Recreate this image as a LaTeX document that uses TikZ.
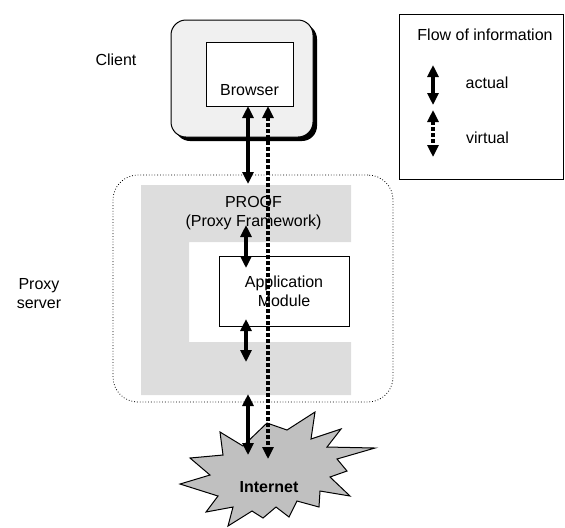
\documentclass[tikz,border=0pt]{standalone}
\usepackage{fontspec}
\setmainfont{Liberation Sans}
\usetikzlibrary{arrows.meta,shadows}
\definecolor{clientgray}{HTML}{F0F0F0}
\definecolor{proofgray}{HTML}{DDDDDD}
\definecolor{netgray}{HTML}{C0C0C0}
\begin{document}
\begin{tikzpicture}[x=0.5pt,y=-0.5pt,
        every node/.style={font=\fontsize{8}{9.5}\selectfont},
        box/.style={draw,line width=0.5pt,fill=white,inner sep=0pt},
        flow/.style={line width=1.6pt,{Triangle[length=6pt,width=5.5pt]}-{Triangle[length=6pt,width=5.5pt]}},
        virt/.style={flow,dash pattern=on 2pt off 1pt}]
        \useasboundingbox (0,0) rectangle (565,527);

        % client
        \node[box,fill=clientgray,rounded corners=7.5pt,minimum width=71pt,minimum height=58.5pt,
            drop shadow={shadow xshift=2pt,shadow yshift=-2pt,fill=black,opacity=1}] (client) at (242,78.5) {};
        \node[box,minimum width=43.5pt,minimum height=32pt] (browser) at (249.5,74) {};
        \node (browsertxt) at (249.5,90) {Browser};
        \node (clienttxt) at (116,60) {Client};

        % proxy server
        \node[draw,densely dotted,line width=0.4pt,rounded corners=12.5pt,minimum width=140pt,minimum height=113.5pt] (proxy) at (253,288.5) {};
        \fill[proofgray] (141,185) -- (351,185) -- (351,242) -- (189,242) -- (189,342) -- (351,342) -- (351,395) -- (141,395) -- cycle;
        \node[align=center,inner sep=0pt] (proof) at (253.5,213) {PROOF\\(Proxy Framework)};
        \node[box,minimum width=65pt,minimum height=35pt,align=center] (appmod) at (284,291) {Application\\Module};
        \node[align=center] (proxytxt) at (39,294) {Proxy\\server};

        % internet
        \draw[fill=netgray,line width=0.5pt] (220,432) -- (243,446) -- (267,423) -- (287,430) -- (315,412) -- (311,439)
            -- (341,429) -- (327,447) -- (375,448) -- (337,459) -- (347,471) -- (330,477) -- (350,496) -- (320,491)
            -- (319,507) -- (297,501) -- (289,517) -- (276,507) -- (263,518) -- (252,511) -- (228,526) -- (233,507)
            -- (206,512) -- (218,496) -- (180,484) -- (210,475) -- (190,458) -- (223,455) -- cycle;
        \node[font=\fontsize{8}{9.5}\selectfont\bfseries] (internet) at (269,487) {Internet};

        % flows
        \coordinate (b1) at (248,106);
        \coordinate (b2) at (268,106);
        \coordinate (p1) at (248,184);
        \coordinate (p2) at (246,225);
        \coordinate (m1) at (246,268);
        \coordinate (m2) at (246,319);
        \coordinate (p3) at (246,362);
        \coordinate (p4) at (248,394);
        \coordinate (n1) at (248,455);
        \coordinate (n2) at (268,459);
        \draw[flow] (b1) -- (p1);
        \draw[flow] (p2) -- (m1);
        \draw[flow] (m2) -- (p3);
        \draw[flow] (p4) -- (n1);
        \draw[virt] (b2) -- (n2);

        % legend
        \node[draw,line width=0.5pt,minimum width=82pt,minimum height=82.5pt] (legend) at (481,96.5) {};
        \node (legendtxt) at (485,35) {Flow of information};
        \node (actual) at (487,83) {actual};
        \node (virtual) at (487.5,138) {virtual};
        \coordinate (la1) at (433,65);
        \coordinate (la2) at (433,105);
        \coordinate (lv1) at (433,110);
        \coordinate (lv2) at (433,157);
        \draw[flow] (la1) -- (la2);
        \draw[virt] (lv1) -- (lv2);
    \end{tikzpicture}
\end{document}
